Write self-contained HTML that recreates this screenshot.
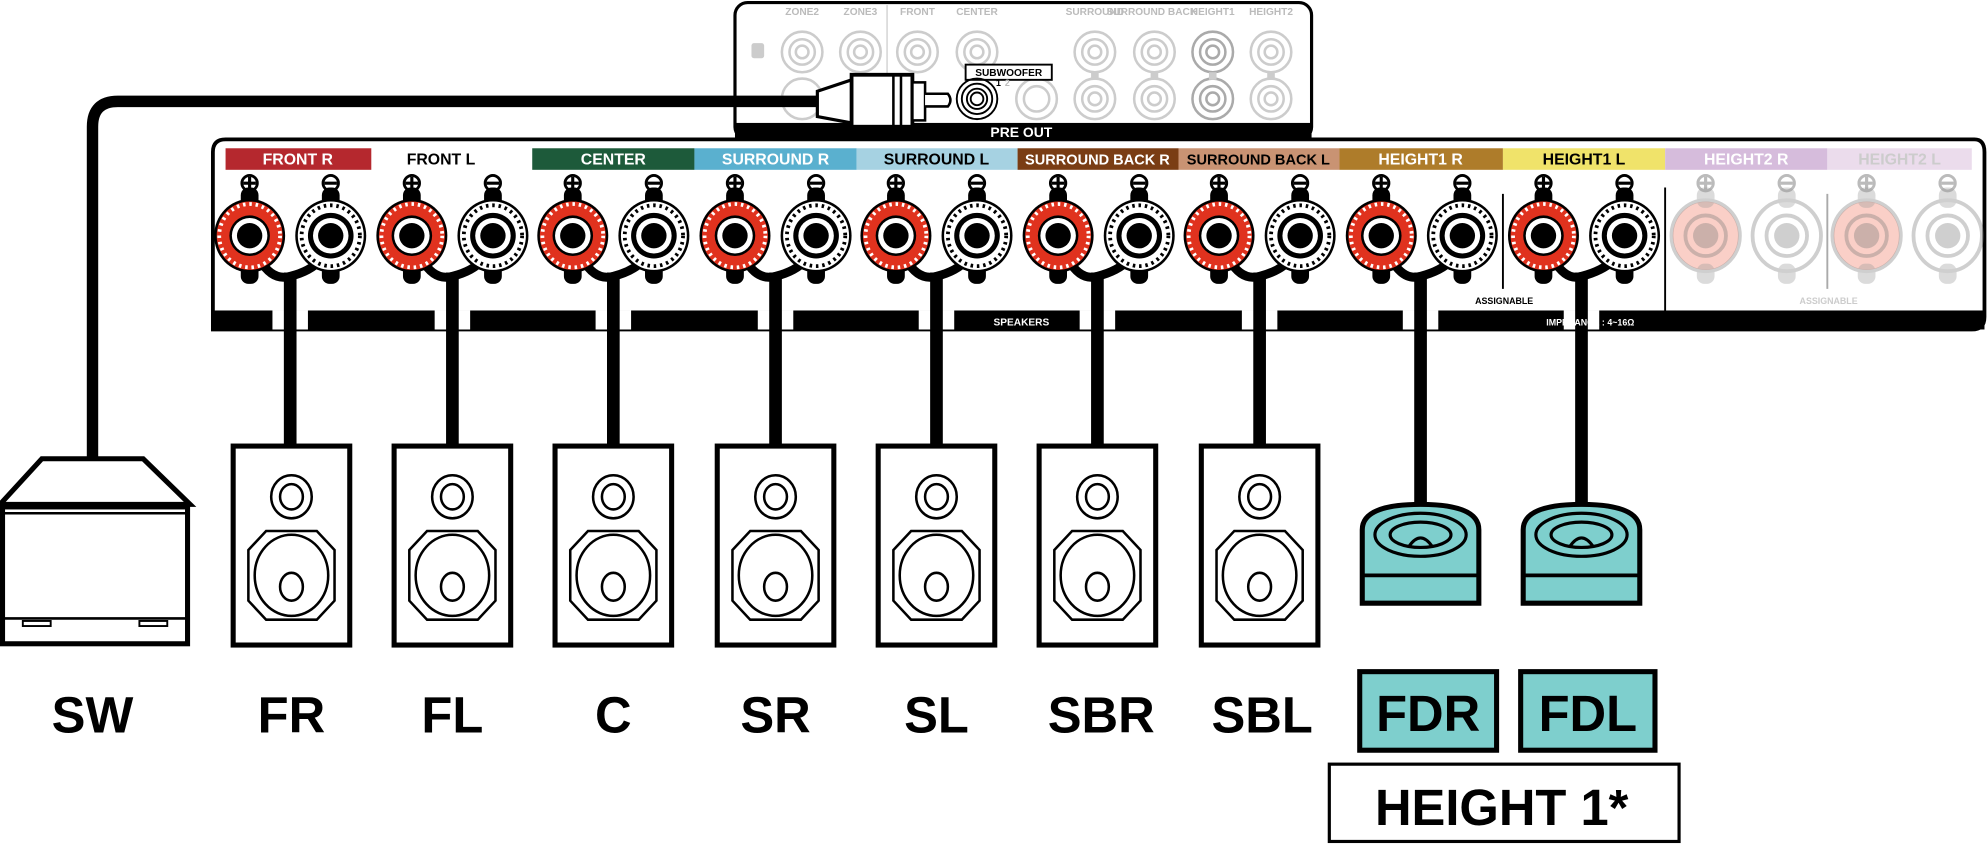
<!DOCTYPE html>
<html><head><meta charset="utf-8"><style>html,body{margin:0;padding:0;background:#fff}svg{display:block}text{font-family:"Liberation Sans",Arial,sans-serif;font-weight:bold}</style></head>
<body>
<svg width="1987" height="844" viewBox="0 0 1568 666" preserveAspectRatio="none" xmlns="http://www.w3.org/2000/svg">
<defs>
<g id="tr">
 <rect x="-7" y="-38" width="14" height="16" rx="6" fill="#000"/>
 <rect x="-7" y="22" width="14" height="16" rx="6" fill="#000"/>
 <ellipse rx="28" ry="29" fill="#000"/>
 <ellipse rx="26" ry="27" fill="#e0321e"/>
 <ellipse rx="24" ry="25" fill="none" stroke="#fff" stroke-width="3" stroke-dasharray="2 3"/>
 <circle r="16" fill="#000"/><circle r="14" fill="#fff"/><circle r="10" fill="#000"/>
</g>
<g id="tw">
 <rect x="-7" y="-38" width="14" height="16" rx="6" fill="#000"/>
 <rect x="-7" y="22" width="14" height="16" rx="6" fill="#000"/>
 <ellipse rx="28" ry="29" fill="#000"/>
 <ellipse rx="26" ry="27" fill="#fff"/>
 <ellipse rx="23" ry="24" fill="none" stroke="#000" stroke-width="3" stroke-dasharray="2 3"/>
 <circle r="18" fill="#000"/><circle r="14" fill="#fff"/><circle r="10" fill="#000"/>
</g>
<g id="tg" opacity="0.35">
 <rect x="-7" y="-38" width="14" height="16" rx="6" fill="#999"/>
 <rect x="-7" y="22" width="14" height="16" rx="6" fill="#999"/>
 <ellipse rx="27" ry="28" fill="none" stroke="#777" stroke-width="3"/>
 <circle r="16" fill="none" stroke="#777" stroke-width="3"/><circle r="10" fill="#777"/>
</g>
<g id="sp">
 <rect x="-46" y="0" width="92" height="157" fill="#fff" stroke="#000" stroke-width="4"/>
 <ellipse cx="0" cy="40" rx="16" ry="17" fill="none" stroke="#000" stroke-width="2"/>
 <ellipse cx="0" cy="40" rx="9" ry="10" fill="none" stroke="#000" stroke-width="2"/>
 <path d="M-20,67 L20,67 L34,82 L34,122 L20,137 L-20,137 L-34,122 L-34,82 Z" fill="none" stroke="#000" stroke-width="2"/>
 <ellipse cx="0" cy="102" rx="29" ry="32" fill="none" stroke="#000" stroke-width="2"/>
 <ellipse cx="0" cy="111" rx="9" ry="11" fill="none" stroke="#000" stroke-width="2"/>
</g>
<g id="hs">
 <path d="M-46,80 L-46,22 Q-46,2 0,2 Q46,2 46,22 L46,80 Z" fill="#7ecfcd" stroke="#000" stroke-width="4"/>
 <line x1="-46" y1="58" x2="46" y2="58" stroke="#000" stroke-width="3"/>
 <ellipse cx="0" cy="26" rx="36" ry="17" fill="none" stroke="#000" stroke-width="2.5"/>
 <ellipse cx="0" cy="26" rx="24" ry="10" fill="none" stroke="#000" stroke-width="2.5"/>
 <path d="M-9,35 Q0,22 9,35" fill="none" stroke="#000" stroke-width="2.5"/>
</g>
</defs>

<rect x="580" y="2" width="455" height="108" rx="10" fill="#fff" stroke="#000" stroke-width="2.5"/>
<rect x="580" y="97" width="455" height="13" fill="#000"/>
<text x="806" y="108" font-size="11" fill="#fff" text-anchor="middle">PRE OUT</text>
<g font-size="8" fill="#bbb" text-anchor="middle">
<text x="633" y="12">ZONE2</text><text x="679" y="12">ZONE3</text><text x="724" y="12">FRONT</text><text x="771" y="12">CENTER</text>
<text x="864" y="12">SURROUND</text><text x="909" y="12">SURROUND BACK</text><text x="957" y="12">HEIGHT1</text><text x="1003" y="12">HEIGHT2</text>
</g>
<rect x="593" y="34" width="10" height="12" rx="2" fill="#ccc"/>
<line x1="700" y1="4" x2="700" y2="72" stroke="#ccc" stroke-width="1"/>
<g fill="none" stroke="#ccc" stroke-width="2">
<circle cx="633" cy="41" r="16"/><circle cx="633" cy="41" r="10"/><circle cx="633" cy="41" r="5"/>
<circle cx="679" cy="41" r="16"/><circle cx="679" cy="41" r="10"/><circle cx="679" cy="41" r="5"/>
<circle cx="724" cy="41" r="16"/><circle cx="724" cy="41" r="10"/><circle cx="724" cy="41" r="5"/>
<circle cx="771" cy="41" r="16"/><circle cx="771" cy="41" r="10"/><circle cx="771" cy="41" r="5"/>
<circle cx="864" cy="41" r="16"/><circle cx="864" cy="41" r="10"/><circle cx="864" cy="41" r="5"/>
<circle cx="864" cy="78" r="16"/><circle cx="864" cy="78" r="10"/><circle cx="864" cy="78" r="5"/>
<circle cx="911" cy="41" r="16"/><circle cx="911" cy="41" r="10"/><circle cx="911" cy="41" r="5"/>
<circle cx="911" cy="78" r="16"/><circle cx="911" cy="78" r="10"/><circle cx="911" cy="78" r="5"/>
<circle cx="957" cy="41" r="16" stroke="#aaa"/><circle cx="957" cy="41" r="10" stroke="#aaa"/><circle cx="957" cy="41" r="5" stroke="#aaa"/>
<circle cx="957" cy="78" r="16" stroke="#aaa"/><circle cx="957" cy="78" r="10" stroke="#aaa"/><circle cx="957" cy="78" r="5" stroke="#aaa"/>
<circle cx="1003" cy="41" r="16"/><circle cx="1003" cy="41" r="10"/><circle cx="1003" cy="41" r="5"/>
<circle cx="1003" cy="78" r="16"/><circle cx="1003" cy="78" r="10"/><circle cx="1003" cy="78" r="5"/>
<circle cx="818" cy="78" r="16"/><circle cx="818" cy="78" r="10"/>
<circle cx="633" cy="78" r="16"/>
</g>
<g fill="#ccc"><rect x="861" y="57" width="6" height="6"/><rect x="908" y="57" width="6" height="6"/><rect x="954" y="57" width="6" height="6"/><rect x="1000" y="57" width="6" height="6"/></g>
<rect x="762" y="51" width="68" height="12" fill="#fff" stroke="#000" stroke-width="1.5"/>
<text x="796" y="60" font-size="8" text-anchor="middle">SUBWOOFER</text>
<text x="786" y="68" font-size="7">1</text><text x="793" y="68" font-size="7" fill="#bbb">2</text>
<g fill="none" stroke="#000" stroke-width="1.5"><circle cx="771" cy="78" r="16"/><circle cx="771" cy="78" r="12"/><circle cx="771" cy="78" r="8"/><circle cx="771" cy="78" r="5"/></g>

<path d="M73,365 L73,100 Q73,80 93,80 L650,80" fill="none" stroke="#000" stroke-width="9"/>
<path d="M645,92 L645,72 L672,63 L672,97 Z" fill="#fff" stroke="#000" stroke-width="2.5"/>
<rect x="672" y="59" width="48" height="41" fill="#fff" stroke="#000" stroke-width="3"/>
<line x1="705" y1="60" x2="705" y2="99" stroke="#000" stroke-width="2"/>
<line x1="711" y1="60" x2="711" y2="99" stroke="#000" stroke-width="2"/>
<rect x="720" y="65" width="10" height="30" fill="#fff" stroke="#000" stroke-width="2"/>
<path d="M730,74 L748,74 Q752,79 748,84 L730,84" fill="#fff" stroke="#000" stroke-width="2"/>

<path d="M168,260 L168,120 Q168,110 178,110 L1558,110 Q1566,110 1566,120 L1566,250 Q1566,260 1556,260 Z" fill="#fff" stroke="#000" stroke-width="3"/>
<rect x="168" y="245" width="1398" height="15" fill="#000"/>
<g font-size="12.5" text-anchor="middle">
<rect x="178" y="117" width="115" height="17" fill="#b5282e"/><text x="235" y="130" fill="#fff">FRONT R</text>
<text x="348" y="130" fill="#000">FRONT L</text>
<rect x="420" y="117" width="128" height="17" fill="#1d5a3a"/><text x="484" y="130" fill="#fff">CENTER</text>
<rect x="548" y="117" width="128" height="17" fill="#5ab0cf"/><text x="612" y="130" fill="#fff">SURROUND R</text>
<rect x="676" y="117" width="127" height="17" fill="#a6d2e2"/><text x="739" y="130" fill="#000">SURROUND L</text>
<rect x="803" y="117" width="127" height="17" fill="#7a3d14"/><text x="866" y="130" fill="#fff" font-size="11.5">SURROUND BACK R</text>
<rect x="930" y="117" width="127" height="17" fill="#c99373"/><text x="993" y="130" fill="#000" font-size="11.5">SURROUND BACK L</text>
<rect x="1057" y="117" width="129" height="17" fill="#ae7c2a"/><text x="1121" y="130" fill="#fff">HEIGHT1 R</text>
<rect x="1186" y="117" width="128" height="17" fill="#f0e36a"/><text x="1250" y="130" fill="#000">HEIGHT1 L</text>
<rect x="1314" y="117" width="128" height="17" fill="#d6bcdc"/><text x="1378" y="130" fill="#fff">HEIGHT2 R</text>
<rect x="1442" y="117" width="114" height="17" fill="#ebdcec"/><text x="1499" y="130" fill="#ccc">HEIGHT2 L</text>
</g>
<line x1="1186" y1="153" x2="1186" y2="228" stroke="#000" stroke-width="1.5"/>
<line x1="1314" y1="148" x2="1314" y2="245" stroke="#000" stroke-width="1.5"/>
<line x1="1442" y1="153" x2="1442" y2="228" stroke="#aaa" stroke-width="1.5"/>
<text x="1187" y="240" font-size="7" text-anchor="middle">ASSIGNABLE</text>
<text x="1443" y="240" font-size="7" text-anchor="middle" fill="#ccc">ASSIGNABLE</text>

<g font-size="21" font-weight="normal" text-anchor="middle" fill="#000">
<text x="197" y="151">⊕</text><text x="261" y="151">⊖</text>
<text x="325" y="151">⊕</text><text x="389" y="151">⊖</text>
<text x="452" y="151">⊕</text><text x="516" y="151">⊖</text>
<text x="580" y="151">⊕</text><text x="644" y="151">⊖</text>
<text x="707" y="151">⊕</text><text x="771" y="151">⊖</text>
<text x="835" y="151">⊕</text><text x="899" y="151">⊖</text>
<text x="962" y="151">⊕</text><text x="1026" y="151">⊖</text>
<text x="1090" y="151">⊕</text><text x="1154" y="151">⊖</text>
<text x="1218" y="151">⊕</text><text x="1282" y="151">⊖</text>
<g fill="#bbb"><text x="1346" y="151">⊕</text><text x="1410" y="151">⊖</text><text x="1473" y="151">⊕</text><text x="1537" y="151">⊖</text></g>
</g>
<g fill="#fff"><rect x="215" y="245" width="28" height="15"/><rect x="343" y="245" width="28" height="15"/><rect x="470" y="245" width="28" height="15"/><rect x="598" y="245" width="28" height="15"/><rect x="725" y="245" width="28" height="15"/><rect x="852" y="245" width="28" height="15"/><rect x="980" y="245" width="28" height="15"/><rect x="1107" y="245" width="28" height="15"/><rect x="1234" y="245" width="28" height="15"/></g>
<g fill="none" stroke="#000" stroke-width="10">
<path d="M229,352 V215"/><path d="M357,352 V215"/><path d="M484,352 V215"/><path d="M612,352 V215"/><path d="M739,352 V215"/><path d="M866,352 V215"/><path d="M994,352 V215"/><path d="M1121,402 V215"/><path d="M1248,402 V215"/>
</g>
<text x="806" y="257" font-size="8" fill="#fff" text-anchor="middle">SPEAKERS</text>
<text x="1255" y="257" font-size="7" fill="#fff" text-anchor="middle">IMPEDANCE : 4~16Ω</text>
<g fill="none" stroke-width="7" stroke="#000">
<path d="M205,205 Q215,222 229,218 Q245,214 253,205"/><path d="M333,205 Q343,222 357,218 Q373,214 381,205"/><path d="M460,205 Q470,222 484,218 Q500,214 508,205"/><path d="M588,205 Q598,222 612,218 Q628,214 636,205"/><path d="M715,205 Q725,222 739,218 Q755,214 763,205"/><path d="M843,205 Q853,222 866,218 Q882,214 891,205"/><path d="M970,205 Q980,222 994,218 Q1010,214 1018,205"/><path d="M1098,205 Q1108,222 1121,218 Q1137,214 1146,205"/><path d="M1226,205 Q1236,222 1248,218 Q1264,214 1274,205"/>
</g>
<use href="#tr" x="197" y="186"/><use href="#tw" x="261" y="186"/>
<use href="#tr" x="325" y="186"/><use href="#tw" x="389" y="186"/>
<use href="#tr" x="452" y="186"/><use href="#tw" x="516" y="186"/>
<use href="#tr" x="580" y="186"/><use href="#tw" x="644" y="186"/>
<use href="#tr" x="707" y="186"/><use href="#tw" x="771" y="186"/>
<use href="#tr" x="835" y="186"/><use href="#tw" x="899" y="186"/>
<use href="#tr" x="962" y="186"/><use href="#tw" x="1026" y="186"/>
<use href="#tr" x="1090" y="186"/><use href="#tw" x="1154" y="186"/>
<use href="#tr" x="1218" y="186"/><use href="#tw" x="1282" y="186"/>
<g opacity="0.5"><ellipse cx="1346" cy="186" rx="26" ry="27" fill="#f6a08f"/><ellipse cx="1473" cy="186" rx="26" ry="27" fill="#f6a08f"/></g>
<use href="#tg" x="1346" y="186"/><use href="#tg" x="1410" y="186"/><use href="#tg" x="1473" y="186"/><use href="#tg" x="1537" y="186"/>

<path d="M33,362 L113,362 L150,398 L0,398 Z" fill="#fff" stroke="#000" stroke-width="4"/>
<rect x="2" y="400" width="146" height="108" fill="#fff" stroke="#000" stroke-width="4"/>
<line x1="2" y1="405" x2="148" y2="405" stroke="#000" stroke-width="2"/>
<line x1="2" y1="488" x2="148" y2="488" stroke="#000" stroke-width="2"/>
<rect x="18" y="490" width="22" height="4" fill="none" stroke="#000" stroke-width="1.5"/>
<rect x="110" y="490" width="22" height="4" fill="none" stroke="#000" stroke-width="1.5"/>

<use href="#sp" x="230" y="352"/><use href="#sp" x="357" y="352"/><use href="#sp" x="484" y="352"/><use href="#sp" x="612" y="352"/><use href="#sp" x="739" y="352"/><use href="#sp" x="866" y="352"/><use href="#sp" x="994" y="352"/>
<use href="#hs" x="1121" y="396"/><use href="#hs" x="1248" y="396"/>

<g font-size="40" text-anchor="middle">
<text x="73" y="578">SW</text><text x="230" y="578">FR</text><text x="357" y="578">FL</text><text x="484" y="578">C</text><text x="612" y="578">SR</text><text x="739" y="578">SL</text><text x="869" y="578">SBR</text><text x="996" y="578">SBL</text>
</g>
<rect x="1073" y="530" width="108" height="62" fill="#7ecfcd" stroke="#000" stroke-width="4"/>
<rect x="1200" y="530" width="106" height="62" fill="#7ecfcd" stroke="#000" stroke-width="4"/>
<text x="1127" y="577" font-size="40" text-anchor="middle">FDR</text>
<text x="1253" y="577" font-size="40" text-anchor="middle">FDL</text>
<rect x="1049" y="603" width="276" height="61" fill="#fff" stroke="#000" stroke-width="2.5"/>
<text x="1185" y="651" font-size="40" text-anchor="middle">HEIGHT 1*</text>
</svg>
</body></html>
